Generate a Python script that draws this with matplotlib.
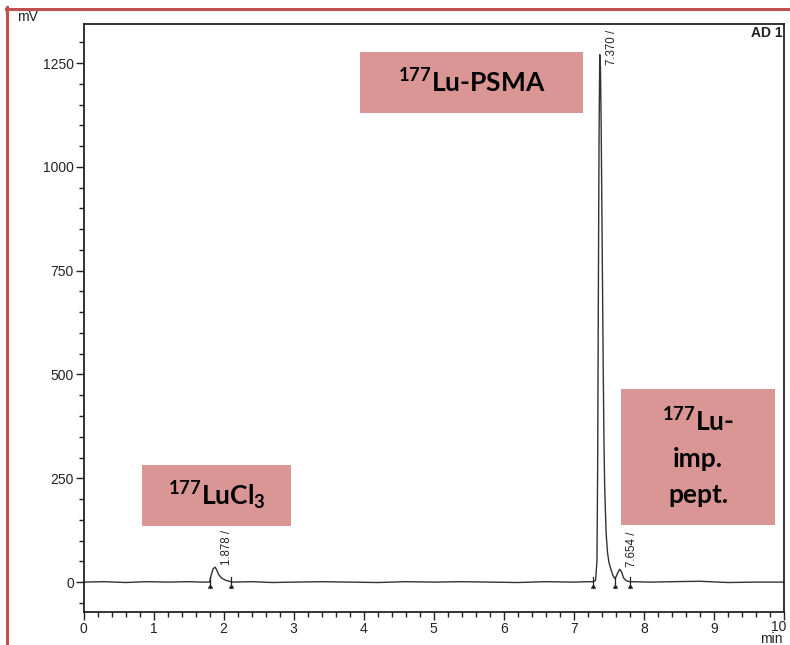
import matplotlib
matplotlib.use("Agg")
import matplotlib.pyplot as plt
from matplotlib.patches import Rectangle
from matplotlib.ticker import MultipleLocator
from matplotlib.lines import Line2D
import matplotlib.transforms as mtransforms

# ---- data ----
trace_time = [0.00, 0.30, 0.60, 0.90, 1.20, 1.50, 1.70, 1.80, 1.82, 1.85, 1.878, 1.90, 1.93,
              1.97, 2.02, 2.08, 2.12, 2.40, 2.70, 3.00, 3.40, 3.80, 4.20, 4.60, 5.00, 5.40,
              5.80, 6.20, 6.60, 7.00, 7.20, 7.28, 7.31, 7.33, 7.34, 7.35, 7.36, 7.37, 7.38,
              7.39, 7.40, 7.41, 7.42, 7.43, 7.44, 7.46, 7.48, 7.50, 7.53, 7.56, 7.59, 7.62,
              7.654, 7.68, 7.71, 7.75, 7.80, 8.10, 8.40, 8.80, 9.20, 9.60, 10.00]
trace_mv = [0, 1, -1, 1, 0, 1, 0, 0, 15, 32, 36, 30, 18,
            10, 5, 2, 0, 1, -1, 0, 1, 0, -1, 1, 0, 1,
            0, -1, 1, 0, 1, 1, 4, 50, 280, 700, 1080, 1270, 1240,
            1100, 900, 700, 500, 340, 230, 120, 72, 48, 30, 15, 8, 20,
            31, 25, 10, 3, 1, 0, 1, 2, -1, 0, 0]

peak_times = [1.878, 7.370, 7.654]
peak_heights = [36, 1270, 31]
peak_labels = ["1.878 /", "7.370 /", "7.654 /"]

event_times = [1.80, 2.10, 7.28, 7.59, 7.80]

box_texts = [r"$^{177}$Lu-PSMA", r"$^{177}$LuCl$_3$", "$^{177}$Lu-\nimp.\npept."]

# ---- figure ----
W, H = 790, 645
fig = plt.figure(figsize=(W / 100, H / 100), dpi=100)
plt.rcParams['mathtext.default'] = 'regular'

ax = fig.add_axes([83.5 / W, 1 - 612 / H, (784 - 83.5) / W, (612 - 24) / H])
ax.plot(trace_time, trace_mv, color="#333333", lw=1.0)
ax.set_xlim(0, 10)
ax.set_ylim(-72, 1344)

ax.xaxis.set_major_locator(MultipleLocator(1))
ax.xaxis.set_minor_locator(MultipleLocator(0.2))
ax.yaxis.set_major_locator(MultipleLocator(250))
ax.yaxis.set_minor_locator(MultipleLocator(50))
ax.tick_params(axis="both", which="major", direction="out", length=6, width=1,
               labelsize=10, colors="#222222", pad=1)
ax.tick_params(axis="both", which="minor", direction="out", length=3.5, width=1,
               colors="#222222")
for lab in ax.get_xticklabels() + ax.get_yticklabels():
    lab.set_family("Liberation Sans")
for s in ax.spines.values():
    s.set_linewidth(1.2)
    s.set_color("#111111")

# shift the last x tick label ("10") slightly left, as in the reference
fig.canvas.draw()
for l in ax.get_xticklabels():
    if l.get_text() == "10":
        l.set_transform(l.get_transform() +
                        mtransforms.ScaledTranslation(-5 / 100, 2 / 100, fig.dpi_scale_trans))

# integration event markers
for t in event_times:
    ax.plot([t, t], [-14, 12], color="#222222", lw=0.9)
    ax.plot([t], [-6], marker=6, color="#222222", ms=3)

# peak labels (the tallest one is pushed down to fit under the frame)
for t, h, s in zip(peak_times, peak_heights, peak_labels):
    dy = -7.2 if h > 1000 else 1.5
    ax.annotate(s, xy=(t, h), xytext=(4.5, dy), textcoords="offset points",
                rotation=90, ha="left", va="bottom", fontsize=8.3,
                family="Liberation Sans", color="#222222")

fig.text(17 / W, 1 - 17 / H, "mV", fontsize=10, family="Liberation Sans",
         color="#222222", va="center", ha="left")
ax.text(0.998, 0.997, "AD 1", transform=ax.transAxes, ha="right", va="top",
        fontsize=10, fontweight="bold", family="Liberation Sans", color="#222222")
fig.text(783 / W, 1 - 639 / H, "min", fontsize=10, family="Liberation Sans",
         color="#222222", va="center", ha="right")

# annotation boxes (pixel extents -> figure fraction)
box_px = [(360, 52, 583, 113), (142, 465, 291, 526), (621, 389, 775, 525)]
box_color = "#DA9694"
for (x0, y0, x1, y1), txt in zip(box_px, box_texts):
    fig.patches.append(Rectangle((x0 / W, 1 - y1 / H), (x1 - x0) / W, (y1 - y0) / H,
                                 transform=fig.transFigure, facecolor=box_color,
                                 edgecolor="none", zorder=5))
    fig.text((x0 + x1) / 2 / W, 1 - (y0 + y1) / 2 / H, txt, ha="center", va="center",
             fontsize=19, fontweight="bold", family="Lato", color="black",
             linespacing=1.6, zorder=6)

# red outer frame lines
red = "#C0504D"
fig.add_artist(Line2D([7 / W, 7 / W], [0, 1 - 7 / H], transform=fig.transFigure,
                      color=red, lw=2.2))
fig.add_artist(Line2D([6 / W, 1], [1 - 8.5 / H, 1 - 8.5 / H], transform=fig.transFigure,
                      color=red, lw=2.2))

fig.savefig("out.png", dpi=100, facecolor="white")
